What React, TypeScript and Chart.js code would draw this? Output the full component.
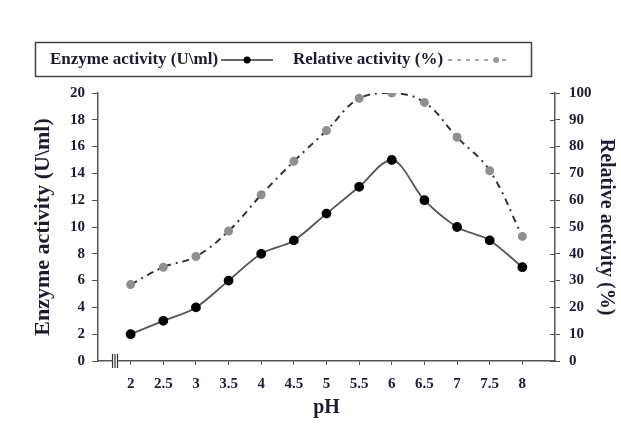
import React, { useEffect, useRef } from "react";
import { Chart, registerables } from "chart.js";

Chart.register(...registerables);

const phValues = [2, 2.5, 3, 3.5, 4, 4.5, 5, 5.5, 6, 6.5, 7, 7.5, 8];
const enzymeActivity = [2, 3, 4, 6, 8, 9, 11, 13, 15, 12, 10, 9, 7];
const relativeActivity = [28.5, 35, 39, 48.5, 62, 74.5, 86, 98, 100, 96.5, 83.5, 71, 46.5];
const enzymeLabel = "Enzyme activity (U\\ml)";
const relativeLabel = "Relative activity (%)";
const xTitle = "pH";

const SERIF = '"Liberation Serif", "DejaVu Serif", serif';
const TEXT = "#1c1c2e";
const AXIS = "#555";

const overlayPlugin = {
  id: "overlay",
  afterDraw(chart: any) {
    const ctx = chart.ctx;
    const x = chart.scales.x;
    const y1 = chart.scales.y1;
    ctx.save();
    // inward tick marks on right axis
    ctx.strokeStyle = AXIS;
    ctx.lineWidth = 1;
    y1.ticks.forEach((t: any) => {
      const py = Math.round(y1.getPixelForValue(t.value)) + 0.5;
      ctx.beginPath();
      ctx.moveTo(y1.left - 5, py);
      ctx.lineTo(y1.left, py);
      ctx.stroke();
    });
    // axis break symbol
    const by = x.top;
    const bx = 112;
    ctx.fillStyle = "#fff";
    ctx.fillRect(bx, by - 7, 6, 14);
    ctx.strokeStyle = "#333";
    ctx.lineWidth = 1.2;
    [bx + 0.5, bx + 3, bx + 5.5].forEach((lx) => {
      ctx.beginPath();
      ctx.moveTo(lx, by - 7);
      ctx.lineTo(lx, by + 7);
      ctx.stroke();
    });
    // legend
    ctx.strokeStyle = "#444";
    ctx.lineWidth = 1.5;
    ctx.strokeRect(35.5, 42.5, 496, 34);
    ctx.font = `bold 17px ${SERIF}`;
    ctx.fillStyle = TEXT;
    ctx.textBaseline = "middle";
    ctx.textAlign = "left";
    const ly = 60;
    let cx = 50;
    ctx.fillText(enzymeLabel, cx, ly);
    cx += ctx.measureText(enzymeLabel).width + 3;
    ctx.strokeStyle = "#333";
    ctx.lineWidth = 1.5;
    ctx.beginPath();
    ctx.moveTo(cx, ly);
    ctx.lineTo(cx + 52, ly);
    ctx.stroke();
    ctx.fillStyle = "#000";
    ctx.beginPath();
    ctx.arc(cx + 26, ly, 3.5, 0, Math.PI * 2);
    ctx.fill();
    cx = 293;
    ctx.fillStyle = TEXT;
    ctx.fillText(relativeLabel, cx, ly);
    cx += ctx.measureText(relativeLabel).width + 5;
    ctx.strokeStyle = "#888";
    ctx.setLineDash([4, 5]);
    ctx.beginPath();
    ctx.moveTo(cx, ly);
    ctx.lineTo(cx + 62, ly);
    ctx.stroke();
    ctx.setLineDash([]);
    ctx.fillStyle = "#999";
    ctx.beginPath();
    ctx.arc(cx + 48, ly, 3, 0, Math.PI * 2);
    ctx.fill();
    ctx.restore();
  },
};

export default function App() {
  const ref = useRef<HTMLCanvasElement>(null);
  useEffect(() => {
    if (!ref.current) return;
    const chart = new Chart(ref.current, {
      type: "line",
      data: {
        datasets: [
          {
            label: enzymeLabel,
            data: phValues.map((p, i) => ({ x: p, y: enzymeActivity[i] })),
            yAxisID: "y",
            borderColor: "#555",
            borderWidth: 1.8,
            pointBackgroundColor: "#000",
            pointBorderColor: "#000",
            pointRadius: 4,
            cubicInterpolationMode: "monotone",
            fill: false,
          },
          {
            label: relativeLabel,
            data: phValues.map((p, i) => ({ x: p, y: relativeActivity[i] })),
            yAxisID: "y1",
            borderColor: "#333",
            borderWidth: 2,
            borderDash: [7, 5, 2, 5],
            pointBackgroundColor: "#8f8f8f",
            pointBorderColor: "#8f8f8f",
            pointRadius: 3.5,
            tension: 0.4,
            fill: false,
          },
        ],
      },
      options: {
        animation: false,
        responsive: false,
        maintainAspectRatio: false,
        layout: { padding: { top: 93, left: 0, right: 0, bottom: 0 } },
        plugins: { legend: { display: false }, tooltip: { enabled: false } },
        scales: {
          x: {
            type: "linear",
            min: 1.5,
            max: 8.5,
            afterBuildTicks: (s: any) => {
              s.ticks = phValues.map((v) => ({ value: v }));
            },
            afterFit: (s: any) => {
              s.height = 76;
            },
            grid: { drawOnChartArea: false, drawTicks: true, tickLength: 4, color: AXIS },
            border: { color: AXIS, width: 1.5 },
            ticks: {
              color: TEXT,
              font: { family: SERIF, size: 15, weight: "bold" },
              padding: 10,
              maxRotation: 0,
              autoSkip: false,
              callback: (v: any) => String(v),
            },
            title: {
              display: true,
              text: xTitle,
              color: TEXT,
              font: { family: SERIF, size: 20, weight: "bold" },
              padding: { top: 0, bottom: 17 },
            },
          },
          y: {
            position: "left",
            min: 0,
            max: 20,
            ticks: {
              stepSize: 2,
              color: TEXT,
              font: { family: SERIF, size: 15, weight: "bold" },
              padding: 7,
            },
            afterFit: (s: any) => {
              s.width = 98;
            },
            grid: { drawOnChartArea: false, drawTicks: true, tickLength: 6, color: AXIS },
            border: { color: AXIS, width: 1.5 },
            title: {
              display: true,
              text: enzymeLabel,
              color: TEXT,
              font: { family: SERIF, size: 22, weight: "bold" },
              padding: { top: 30, bottom: 0 },
            },
          },
          y1: {
            position: "right",
            min: 0,
            max: 100,
            ticks: {
              stepSize: 10,
              color: TEXT,
              font: { family: SERIF, size: 15, weight: "bold" },
              padding: 9,
            },
            afterFit: (s: any) => {
              s.width = 66;
            },
            grid: { drawOnChartArea: false, drawTicks: true, tickLength: 5, color: AXIS },
            border: { color: AXIS, width: 1.5 },
            title: {
              display: true,
              text: relativeLabel,
              color: TEXT,
              font: { family: SERIF, size: 20, weight: "bold" },
              padding: { top: 3, bottom: 0 },
            },
          },
        },
      },
      plugins: [overlayPlugin],
    } as any);
    return () => chart.destroy();
  }, []);
  return (
    <div style={{ position: "absolute", left: 0, top: 0, width: 621, height: 437, background: "#fff" }}>
      <canvas ref={ref} width={621} height={437} style={{ width: 621, height: 437 }} />
    </div>
  );
}
